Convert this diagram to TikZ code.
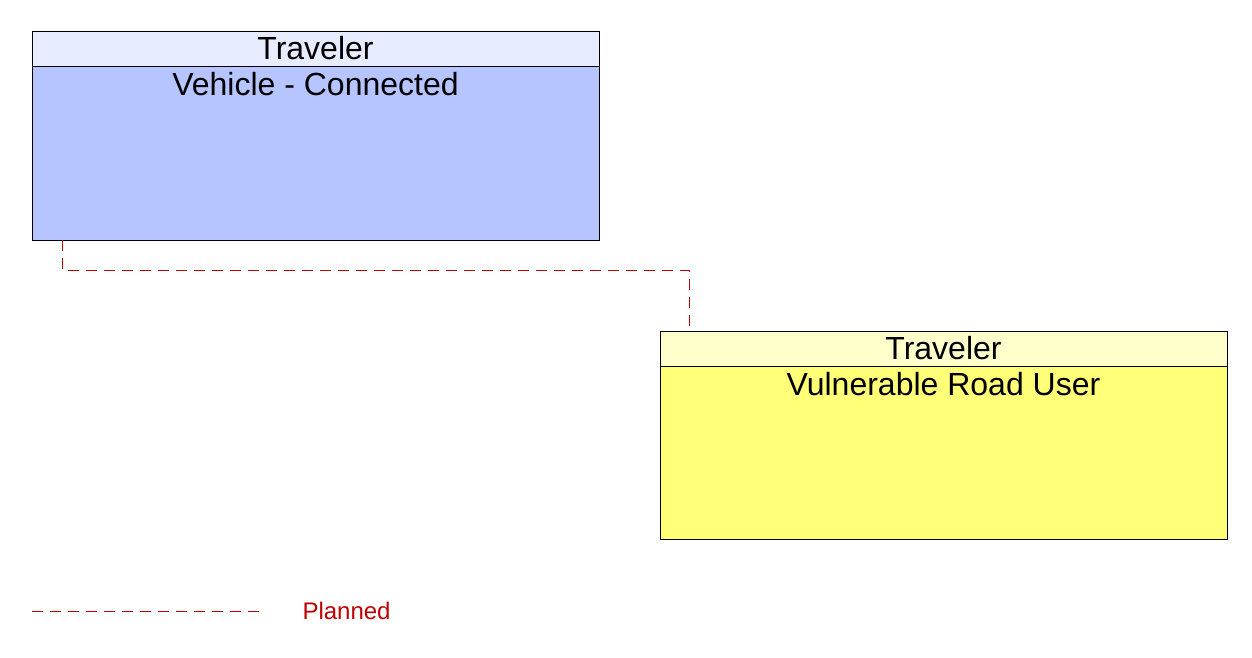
\documentclass[tikz,border=0pt]{standalone}
\usepackage{fontspec}
\setmainfont{Liberation Sans}
\definecolor{vbody}{RGB}{182,196,255}
\definecolor{vhead}{RGB}{232,236,255}
\definecolor{ybody}{RGB}{255,255,120}
\definecolor{yhead}{RGB}{255,255,204}
\definecolor{plan}{RGB}{192,0,0}
\begin{document}
\begin{tikzpicture}[x=1pt,y=-1pt,
  box/.style={draw=black,line width=0.8pt,anchor=north west,inner sep=0pt},
  ttl/.style={font=\fontsize{32}{34}\selectfont,anchor=base},
  planned/.style={draw=plan,line width=1pt,dash pattern=on 11pt off 7pt}]
\useasboundingbox (0,0) rectangle (1252,658);
\fill[white] (0,0) rectangle (1252,658);
% Vehicle box
\draw[box,fill=vbody] (32,31) rectangle (599,240);
\draw[box,fill=vhead] (32,31) rectangle (599,66);
\node (vb) [minimum width=567pt,minimum height=209pt,anchor=north west,inner sep=0pt] at (32,31) {};
\node[ttl] (vt) at (315.5,60) {Traveler};
\node[ttl] (vn) at (315.5,96) {Vehicle - Connected};
% VRU box
\draw[box,fill=ybody] (660,331) rectangle (1227,539);
\draw[box,fill=yhead] (660,331) rectangle (1227,366);
\node (yb) [minimum width=567pt,minimum height=208pt,anchor=north west,inner sep=0pt] at (660,331) {};
\node[ttl] (yt) at (943.5,359) {Traveler};
\node[ttl] (yn) at (943.5,395) {Vulnerable Road User};
% connector
\coordinate (c1) at (62,240);
\coordinate (c2) at (689,331);
\draw[planned] (c1) |- (689,270) -- (c2);
% legend
\coordinate (l1) at (32,611);
\coordinate (l2) at (265,611);
\draw[planned] (l1) -- (l2);
\node[text=plan,font=\fontsize{24}{26}\selectfont,anchor=west] (lg) at (299,611) {Planned};
\end{tikzpicture}
\end{document}
